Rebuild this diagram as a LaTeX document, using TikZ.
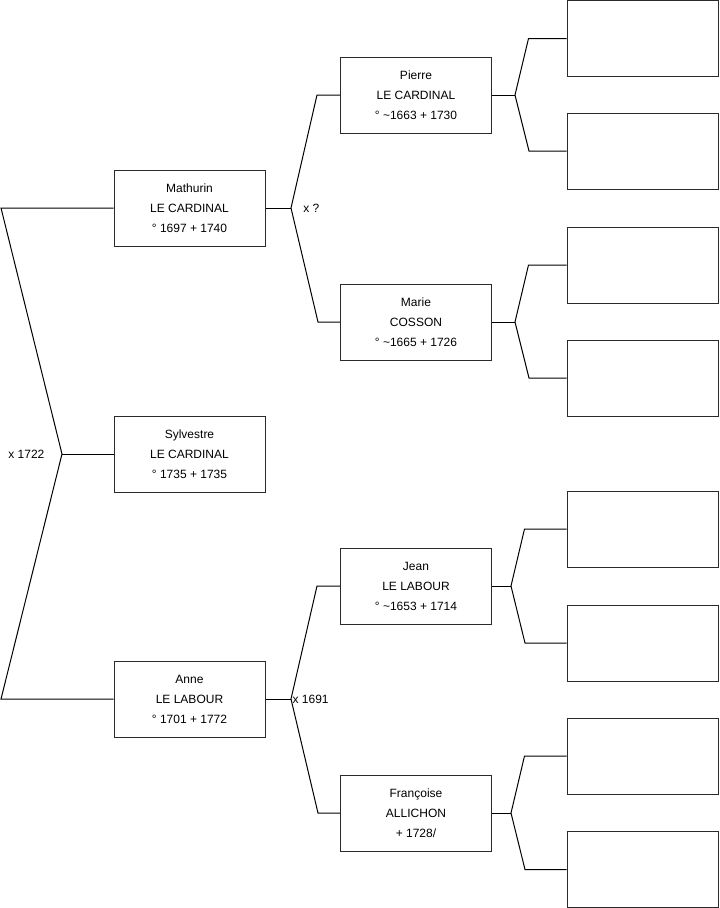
\documentclass[tikz,border=0pt]{standalone}
\usepackage{fontspec}
\setmainfont{Liberation Sans}
\definecolor{boxline}{HTML}{2A2A2A}
\usetikzlibrary{positioning}

\begin{document}
\begin{tikzpicture}[x=0.75pt, y=-0.75pt,
  person/.style={draw=boxline, line width=0.75pt, minimum width=113.25pt, minimum height=57pt,
                 inner sep=0pt, font=\fontsize{9}{15}\selectfont, align=center},
  link/.style={draw=black, line width=0.75pt},
  union/.style={font=\fontsize{9}{11}\selectfont, inner sep=1pt}
]
  \useasboundingbox (0,0) rectangle (719,908);
  % generation 1
  \node[person] (mathurin) at (189.5,208) {Mathurin\\LE CARDINAL\\° 1697 + 1740};
  \node[person] (sylvestre) at (189.5,454) {Sylvestre\\LE CARDINAL\\° 1735 + 1735};
  \node[person] (anne) at (189.5,699) {Anne\\LE LABOUR\\° 1701 + 1772};
  % generation 2
  \node[person] (pierre) at (416,95) {Pierre\\LE CARDINAL\\° \textasciitilde1663 + 1730};
  \node[person] (marie) at (416,322) {Marie\\COSSON\\° \textasciitilde1665 + 1726};
  \node[person] (jean) at (416,586) {Jean\\LE LABOUR\\° \textasciitilde1653 + 1714};
  \node[person] (francoise) at (416,813) {Françoise\\ALLICHON\\+ 1728/};
  % generation 3
  \node[person] (p1) at (642.5,38.5) {};
  \node[person] (p2) at (642.5,151) {};
  \node[person] (m1) at (642.5,265) {};
  \node[person] (m2) at (642.5,378) {};
  \node[person] (j1) at (642.5,529) {};
  \node[person] (j2) at (642.5,643) {};
  \node[person] (f1) at (642.5,756) {};
  \node[person] (f2) at (642.5,869.5) {};

  % sibling bracket
  \coordinate (topend) at (1,208);
  \coordinate (botend) at (1,699);
  \coordinate (fork0) at (62,454);
  \draw[link] (mathurin.west) -- (topend) -- (fork0) -- (botend) -- (anne.west);
  \draw[link] (fork0) -- (sylvestre.west);
  \node[union, anchor=east] (m1722) at (fork0) [xshift=-12pt] {x 1722};

  % parents of Mathurin
  \coordinate (fork1) at (291,208);
  \draw[link] (mathurin.east) -- (fork1);
  \draw[link] (pierre.west) -- ++(-23,0) -- (fork1) -- (318,322) -- (marie.west);
  \node[union, anchor=west] (mq) at (fork1) [xshift=8pt] {x ?};

  % parents of Anne
  \coordinate (fork2) at (291,699);
  \draw[link] (anne.east) -- (fork2);
  \draw[link] (jean.west) -- ++(-23,0) -- (fork2) -- (318,813) -- (francoise.west);
  \node[union, anchor=west] (m1691) at (fork2) {x 1691};

  % grandparents
  \draw[link] (pierre.east) -- (515,95);
  \draw[link] (p1.west) -- ++(-38,0) -- (515,95) -- (529,151) -- (p2.west);
  \draw[link] (marie.east) -- (515,322);
  \draw[link] (m1.west) -- ++(-38,0) -- (515,322) -- (529,378) -- (m2.west);
  \draw[link] (jean.east) -- (511,586);
  \draw[link] (j1.west) -- ++(-42,0) -- (511,586) -- (525,643) -- (j2.west);
  \draw[link] (francoise.east) -- (511,813);
  \draw[link] (f1.west) -- ++(-42,0) -- (511,813) -- (525,869.5) -- (f2.west);
\end{tikzpicture}
\end{document}
